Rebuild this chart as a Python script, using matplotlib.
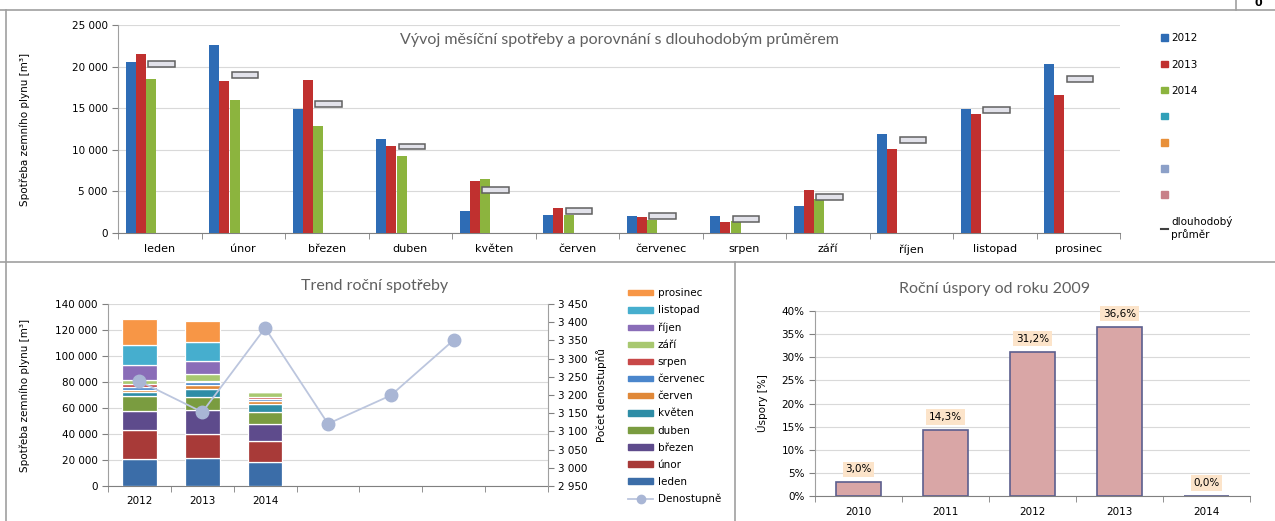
import numpy as np
import matplotlib
matplotlib.use("Agg")
from matplotlib import pyplot as plt
from matplotlib.patches import Patch
from matplotlib.lines import Line2D

plt.rcParams['font.family'] = ['Liberation Sans Narrow', 'DejaVu Sans']

# ---- data ----
mesice = ['leden', 'únor', 'březen', 'duben', 'květen', 'červen', 'červenec',
          'srpen', 'září', 'říjen', 'listopad', 'prosinec']
spotreba_2012 = [20550, 22650, 14850, 11350, 2600, 2200, 2100, 2000, 3200, 11950, 14950, 20350]
spotreba_2013 = [21550, 18250, 18400, 10450, 6200, 3000, 1950, 1300, 5200, 10050, 14250, 16550]
spotreba_2014 = [18550, 15950, 12900, 9200, 6500, 2200, 1600, 1400, 4100]
dlouhodoby_prumer = [20350, 19000, 15530, 10390, 5180, 2600, 2000, 1650, 4370, 11160, 14770, 18540]

roky = ['2012', '2013', '2014']
roky_osa = ['2012', '2013', '2014', '', '', '', '']
denostupne = [3238, 3153, 3384, 3121, 3199, 3351]

uspory_roky = ['2010', '2011', '2012', '2013', '2014']
uspory = [3.0, 14.3, 31.2, 36.6, 0.0]

c_roky = ['#2E6CB5', '#C0302F', '#8CB43E']
c_prazdne = ['#31A0B8', '#E8903A', '#8CA0C8', '#C88088']
c_mesice = ['#3B6DA8', '#A83A38', '#5E4B8C', '#7A9C40', '#2E8DA6', '#E08838',
            '#4A86CC', '#C84848', '#A8C870', '#8A6DB8', '#46AECE', '#F79646']
grid_c = '#D9D9D9'
title_c = '#606060'

W, H = 1275, 521
def fx(px):
    return px / W
def fy(py):
    return 1 - py / H

fig = plt.figure(figsize=(12.75, 5.21), dpi=100)

# ---- panel frames ----
for x0, y0, x1, y1 in [(0, 10, W, 10), (0, 262, W, 262), (6, 10, 6, H),
                       (735, 262, 735, H), (1236, 0, 1236, 10)]:
    fig.add_artist(Line2D([fx(x0), fx(x1)], [fy(y0), fy(y1)], color='#A0A0A0', lw=1.2))
fig.text(fx(1258), fy(3), '0', fontsize=8, fontweight='bold', ha='center', va='center')

def fmt_tis(v):
    return '{:,.0f}'.format(v).replace(',', ' ')

# ---- top: monthly consumption ----
ax = fig.add_axes([fx(118), fy(233), fx(1120) - fx(118), fy(25) - fy(233)])
x = np.arange(len(mesice))
w = 0.12
serie = [spotreba_2012, spotreba_2013, spotreba_2014]
offs = [-0.35, -0.225, -0.10]
for s, c, o in zip(serie, c_roky, offs):
    ax.bar(x[:len(s)] + o, s, w, color=c, zorder=3)
prum = np.array(dlouhodoby_prumer)
ax.bar(x + 0.02, 700, 0.32, bottom=prum - 350, color='#E2E2EA', edgecolor='#606060',
       linewidth=1.1, zorder=4)
ax.set_xlim(-0.5, 11.5)
ax.set_ylim(0, 25000)
ax.set_yticks(range(0, 25001, 5000))
ax.set_yticklabels([fmt_tis(v) for v in range(0, 25001, 5000)], fontsize=7.5)
ax.set_xticks(x)
ax.set_xticklabels(mesice, fontsize=8)
ax.set_xticks(np.arange(-0.5, 12, 1), minor=True)
ax.tick_params(axis='x', which='major', length=0, pad=8)
ax.tick_params(axis='x', which='minor', length=4, color='#808080')
ax.tick_params(axis='y', length=4, color='#808080')
ax.grid(axis='y', color=grid_c, lw=0.8, zorder=0)
for sp in ['top', 'right']:
    ax.spines[sp].set_visible(False)
ax.spines['left'].set_color('#A0A0A0')
ax.spines['bottom'].set_color('#808080')
ax.set_ylabel('Spotřeba zemního plynu [m³]', fontsize=7.5, labelpad=30)
ax.set_title('Vývoj měsíční spotřeby a porovnání s dlouhodobým průměrem',
             fontsize=11.5, color=title_c, family=['Lato', 'DejaVu Sans'], y=0.87)

h_top = [Patch(color=c) for c in c_roky + c_prazdne]
h_top.append(Line2D([0], [0], color='#404040', lw=1.5))
fig.legend(h_top, roky + ['', '', '', '', 'dlouhodobý\nprůměr'],
           loc='upper left', bbox_to_anchor=(fx(1152), fy(24)), frameon=False,
           fontsize=7.5, handlelength=0.6, handleheight=0.6, handletextpad=0.35,
           labelspacing=1.55)

# ---- bottom left: annual trend ----
ax2 = fig.add_axes([fx(108), fy(486), fx(548) - fx(108), fy(304) - fy(486)])
data_mes = np.array([spotreba_2012, spotreba_2013,
                     spotreba_2014 + [0] * (12 - len(spotreba_2014))], dtype=float)
xb = np.arange(len(roky))
bottom = np.zeros(len(roky))
for i, m in enumerate(mesice):
    ax2.bar(xb, data_mes[:, i], 0.55, bottom=bottom, color=c_mesice[i],
            edgecolor='white', linewidth=0.9, zorder=3)
    bottom += data_mes[:, i]
ax2.set_xlim(-0.5, len(roky_osa) - 0.5)
ax2.set_ylim(0, 140000)
ax2.set_yticks(range(0, 140001, 20000))
ax2.set_yticklabels([fmt_tis(v) for v in range(0, 140001, 20000)], fontsize=7.5)
ax2.set_xticks(np.arange(len(roky_osa)))
ax2.set_xticklabels(roky_osa, fontsize=7.5)
ax2.set_xticks(np.arange(-0.5, len(roky_osa), 1), minor=True)
ax2.tick_params(axis='x', which='major', length=0, pad=7)
ax2.tick_params(axis='x', which='minor', length=4, color='#808080')
ax2.tick_params(axis='y', length=4, color='#808080')
ax2.grid(axis='y', color=grid_c, lw=0.8, zorder=0)
ax2.spines['top'].set_visible(False)
ax2.spines['right'].set_visible(False)
ax2.spines['left'].set_color('#A0A0A0')
ax2.spines['bottom'].set_color('#808080')
ax2.set_ylabel('Spotřeba zemního plynu [m³]', fontsize=7.5, labelpad=18)

ax3 = ax2.twinx()
ax3.plot(np.arange(len(denostupne)), denostupne, color='#BCC6DE', lw=1.3,
         marker='o', ms=9, mfc='#A9B6D5', mec='#A9B6D5', zorder=5)
ax3.set_ylim(2950, 3450)
ax3.set_yticks(range(2950, 3451, 50))
ax3.set_yticklabels([fmt_tis(v) for v in range(2950, 3451, 50)], fontsize=7.5)
ax3.tick_params(axis='y', length=4, color='#808080')
ax3.spines['top'].set_visible(False)
ax3.spines['left'].set_visible(False)
ax3.spines['bottom'].set_visible(False)
ax3.spines['right'].set_color('#A0A0A0')
ax3.set_ylabel('Počet denostupňů', fontsize=7.5, labelpad=6)
fig.text(fx(375), fy(286), 'Trend roční spotřeby', fontsize=11.5, color=title_c,
         family=['Lato', 'DejaVu Sans'], ha='center', va='center')

h_bl = [Patch(color=c_mesice[i]) for i in range(11, -1, -1)]
h_bl.append(Line2D([0], [0], color='#BCC6DE', lw=1.3, marker='o', ms=6,
                   mfc='#A9B6D5', mec='#A9B6D5'))
fig.legend(h_bl, mesice[::-1] + ['Denostupně'], loc='upper left',
           bbox_to_anchor=(fx(619), fy(279)), frameon=False, fontsize=7.5,
           handlelength=2.4, handleheight=0.45, handletextpad=0.4, labelspacing=0.68)

# ---- bottom right: savings ----
ax4 = fig.add_axes([fx(815), fy(496), fx(1250) - fx(815), fy(311) - fy(496)])
xu = np.arange(len(uspory_roky))
ax4.bar(xu, uspory, 0.52, color='#D9A6A6', edgecolor='#5C5F8E', linewidth=1.2, zorder=3)
for xi, v in zip(xu, uspory):
    ax4.text(xi, v + 2.8, '{:.1f}%'.format(v).replace('.', ','), ha='center',
             va='center', fontsize=7.5, zorder=4,
             bbox=dict(boxstyle='square,pad=0.25', fc='#FCE4CA', ec='none'))
ax4.set_xlim(-0.5, len(uspory_roky) - 0.5)
ax4.set_ylim(0, 40)
ax4.set_yticks(range(0, 41, 5))
ax4.set_yticklabels(['{}%'.format(v) for v in range(0, 41, 5)], fontsize=7.5)
ax4.set_xticks(xu)
ax4.set_xticklabels(uspory_roky, fontsize=7.5)
ax4.set_xticks(np.arange(-0.5, len(uspory_roky), 1), minor=True)
ax4.tick_params(axis='x', which='major', length=0, pad=8)
ax4.tick_params(axis='x', which='minor', length=4, color='#808080')
ax4.tick_params(axis='y', length=4, color='#808080')
ax4.grid(axis='y', color=grid_c, lw=0.8, zorder=0)
ax4.spines['top'].set_visible(False)
ax4.spines['right'].set_visible(False)
ax4.spines['left'].set_color('#A0A0A0')
ax4.spines['bottom'].set_color('#808080')
ax4.set_ylabel('Úspory [%]', fontsize=7.5, labelpad=10)
fig.text(fx(995), fy(289), 'Roční úspory od roku 2009', fontsize=11.5, color=title_c,
         family=['Lato', 'DejaVu Sans'], ha='center', va='center')

fig.savefig('out.png', dpi=100)
